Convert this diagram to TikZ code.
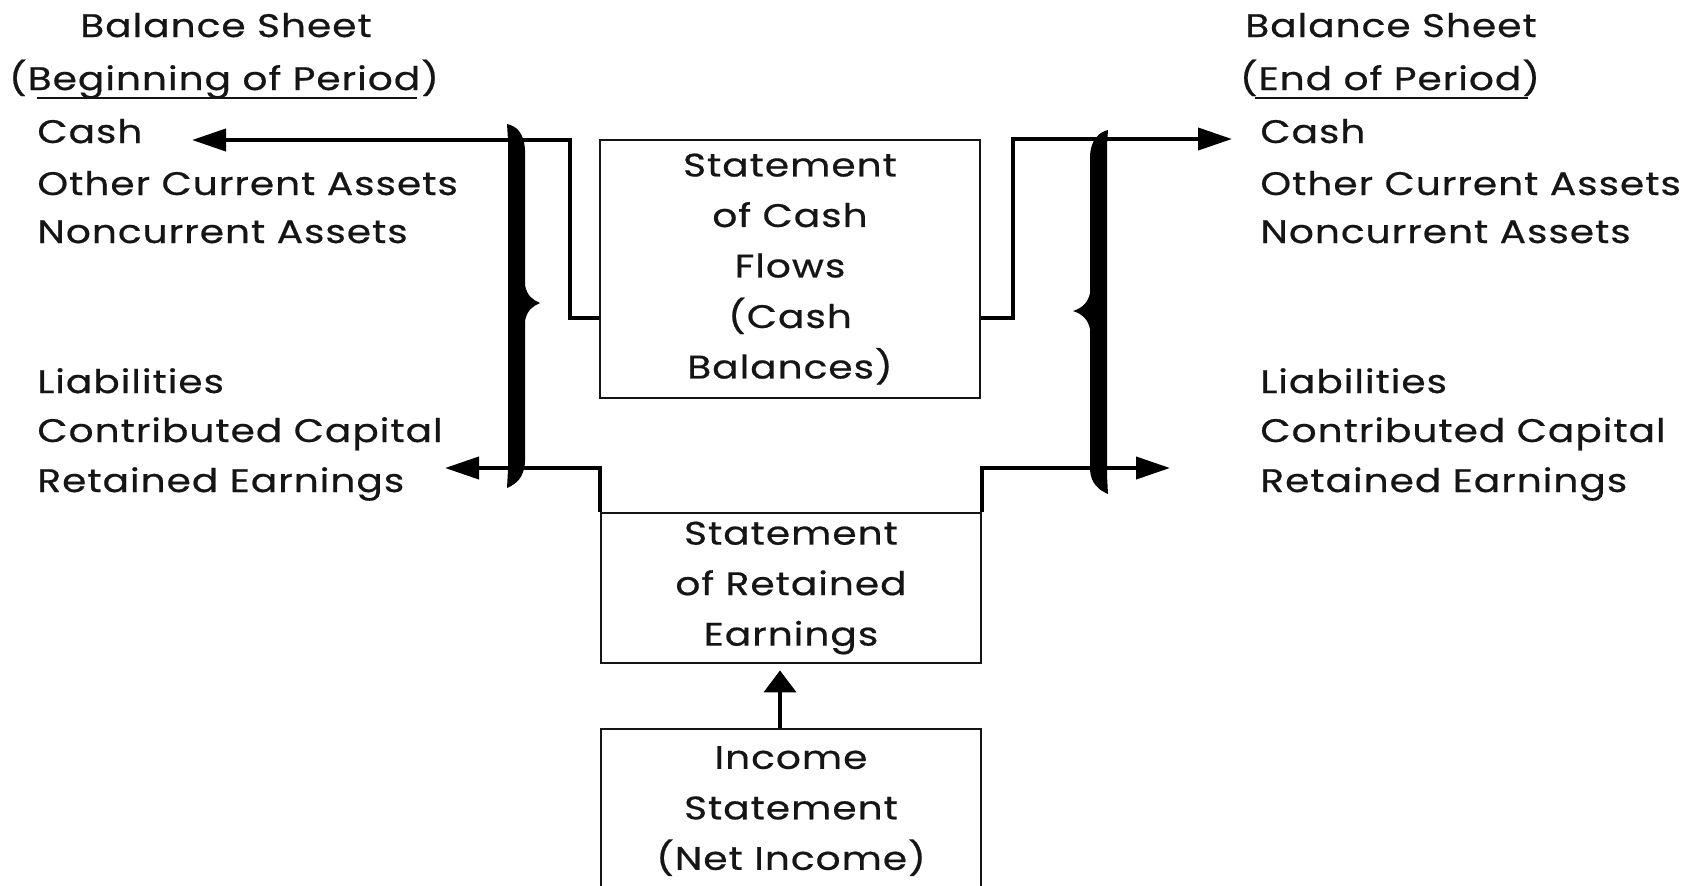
\documentclass[tikz,border=0pt]{standalone}
\usepackage{fontspec}
\setmainfont{Poppins}[FakeStretch=1.2,LetterSpace=3,FakeBold=0.6]
\usetikzlibrary{arrows.meta,calc}
\definecolor{ink}{HTML}{151515}
\tikzset{
  txt/.style={anchor=base west,inner sep=0pt,text=ink,font=\fontsize{16.3pt}{25.25pt}\selectfont},
  ttl/.style={anchor=base,inner sep=0pt,text=ink,font=\fontsize{16.3pt}{25.25pt}\selectfont},
  stbox/.style={draw=ink,line width=1.4pt,inner sep=0pt,align=center,text=ink,
     font=\fontsize{16.3pt}{25.25pt}\selectfont,minimum width=190pt},
  conn/.style={draw=black,line width=2pt},
  arr/.style={conn,-{Triangle[length=17pt,width=11pt]}},
  arrv/.style={conn,-{Triangle[length=11pt,width=16pt]}}
}
\begin{document}
\begin{tikzpicture}[x=0.5pt,y=-0.5pt]
\useasboundingbox (0,0) rectangle (1694,885);
% left balance sheet
\node[ttl] (ltitle) at (226,37) {Balance Sheet};
\node[ttl] (lperiod) at (224,90) {(Beginning of Period)};
\draw[ink,line width=1pt] (37,98) -- (417,98);
\node[txt] (lcash) at (37,143) {Cash};
\node[txt] (loca) at (37,195) {Other Current Assets};
\node[txt] (lnca) at (37,243) {Noncurrent Assets};
\node[txt] (lliab) at (37,393) {Liabilities};
\node[txt] (lcc) at (37,442) {Contributed Capital};
\node[txt] (lre) at (37,492) {Retained Earnings};
% right balance sheet
\node[ttl] (rtitle) at (1391,37) {Balance Sheet};
\node[ttl] (rperiod) at (1390,90) {(End of Period)};
\draw[ink,line width=1pt] (1255,98) -- (1528,98);
\node[txt] (rcash) at (1260,143) {Cash};
\node[txt] (roca) at (1260,195) {Other Current Assets};
\node[txt] (rnca) at (1260,243) {Noncurrent Assets};
\node[txt] (rliab) at (1260,393) {Liabilities};
\node[txt] (rcc) at (1260,442) {Contributed Capital};
\node[txt] (rre) at (1260,492) {Retained Earnings};
% statement boxes
\node[stbox,minimum height=129pt] (cf) at (790,269) {Statement\\of Cash\\Flows\\(Cash\\Balances)};
\node[stbox,minimum height=75pt] (re) at (791,588) {Statement\\of Retained\\Earnings};
\node[stbox,minimum height=82pt] (is) at (791,811) {Income\\Statement\\(Net Income)};
% braces
\fill[black] (507,124) .. controls (516,126) and (524,132) .. (525,150)
  -- (525,285) .. controls (527,296) and (533,300) .. (540,303)
  .. controls (533,306) and (527,310) .. (525,321)
  -- (525,462) .. controls (524,478) and (516,484) .. (507,488)
  -- (508,470) -- (508,140) -- cycle;
\fill[black] (1108,130) .. controls (1099,132) and (1091,140) .. (1090,155)
  -- (1090,293) .. controls (1088,303) and (1082,308) .. (1073,311)
  .. controls (1082,314) and (1088,319) .. (1090,329)
  -- (1090,470) .. controls (1091,484) and (1099,490) .. (1108,494)
  -- (1107,475) -- (1107,145) -- cycle;
% arrow end points
\coordinate (tipLcash) at (192,140);
\coordinate (tipLre) at (445,468);
\coordinate (tipRcash) at (1232,139);
\coordinate (tipRre) at (1170,468);
\coordinate (vx) at (780,0);
% connectors
\draw[arr] ([yshift=-24.5pt]cf.west) -- (570,318) |- (tipLcash);
\draw[arr] ([yshift=-24.5pt]cf.east) -- (1013,318) |- (tipRcash);
\draw[arr] (re.north west) |- (tipLre);
\draw[arr] (re.north east) |- (tipRre);
\draw[arrv,shorten >=3pt] (is.north -| vx) -- (re.south -| vx);
\end{tikzpicture}
\end{document}
